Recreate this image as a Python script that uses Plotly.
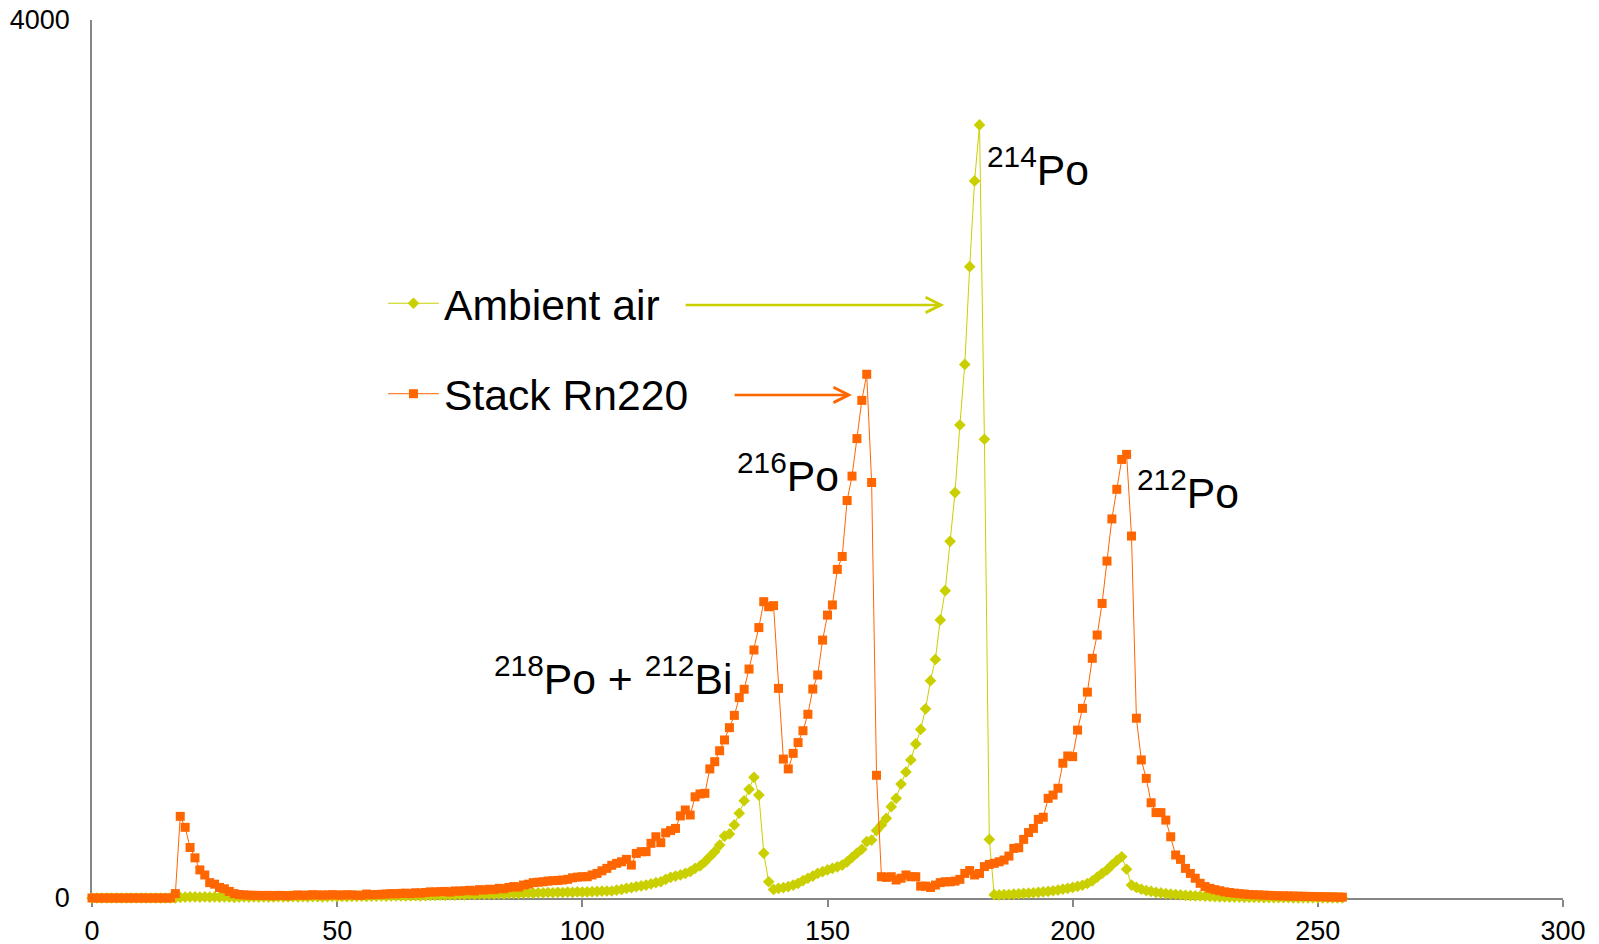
import plotly.graph_objects as go

channels = list(range(256))

# Stack Rn220 counts per channel (rows of 10 channels)
stack_rn220 = (
    [0] * 17 +
    [20, 372, 322, 230, 183, 128, 105, 70, 63, 48, 42, 30, 20] +            # 17-29
    [16, 14, 13, 12, 12, 11, 12, 10, 12, 11] +                             # 30-39
    [10, 12, 14, 12, 13, 15, 14, 13, 14, 15] +                             # 40-49
    [14, 13, 15, 14, 13, 12, 18, 15, 16, 17] +                             # 50-59
    [18, 20, 19, 21, 22, 20, 24, 22, 25, 28] +                             # 60-69
    [27, 29, 30, 27, 32, 31, 33, 35, 32, 38] +                             # 70-79
    [36, 40, 38, 44, 42, 48, 52, 50, 59, 63] +                             # 80-89
    [70, 72, 74, 77, 79, 80, 82, 85, 92, 95] +                             # 90-99
    [97, 97, 105, 112, 124, 135, 149, 158, 165, 176] +                     # 100-109
    [150, 203, 211, 211, 249, 279, 252, 297, 307, 317] +                   # 110-119
    [374, 401, 378, 461, 474, 477, 588, 621, 671, 720] +                   # 120-129
    [776, 832, 913, 951, 1043, 1130, 1232, 1350, 1327, 1332] +             # 130-139
    [955, 633, 588, 659, 708, 762, 837, 952, 1016, 1175] +                 # 140-149
    [1289, 1335, 1497, 1556, 1811, 1922, 2093, 2267, 2386, 1893] +         # 150-159
    [559, 97, 94, 97, 82, 90, 105, 97, 97, 54] +                           # 160-169
    [54, 48, 59, 70, 74, 74, 77, 85, 112, 125] +                           # 170-179
    [105, 112, 143, 153, 158, 165, 173, 191, 226, 229] +                   # 180-189
    [267, 298, 317, 358, 368, 454, 469, 500, 614, 647] +                   # 190-199
    [644, 765, 864, 938, 1092, 1198, 1342, 1535, 1727, 1862] +             # 200-209
    [1998, 2021, 1649, 819, 629, 545, 434, 389, 389, 355] +                # 210-219
    [279, 196, 176, 135, 112, 90, 67, 52, 44, 38] +                        # 220-229
    [33, 28, 25, 22, 20, 18, 16, 15, 14, 13] +                             # 230-239
    [12, 11, 10, 10, 9, 9, 8, 8, 7, 7] +                                   # 240-249
    [6, 6, 5, 5, 4, 4]                                                     # 250-255
)

# Ambient air counts per channel
ambient_air = (
    [0] * 18 +
    [3, 4, 5, 5, 4, 5, 4, 5, 4, 5, 4, 3] +                                 # 18-29
    [4, 5, 4, 5, 4, 5, 4, 5, 6, 5] +                                       # 30-39
    [5, 6, 5, 6, 5, 6, 6, 5, 6, 7] +                                       # 40-49
    [6, 7, 6, 7, 7, 8, 7, 8, 8, 9] +                                       # 50-59
    [8, 9, 9, 10, 9, 10, 11, 10, 11, 12] +                                 # 60-69
    [12, 13, 12, 14, 13, 15, 14, 16, 15, 17] +                             # 70-79
    [16, 18, 17, 19, 18, 20, 21, 20, 22, 23] +                             # 80-89
    [22, 24, 23, 25, 24, 26, 25, 27, 26, 28] +                             # 90-99
    [27, 28, 29, 30, 31, 32, 32, 36, 39, 44] +                             # 100-109
    [47, 52, 55, 59, 64, 70, 74, 85, 94, 100] +                            # 110-119
    [105, 112, 120, 135, 146, 165, 188, 211, 241, 282] +                   # 120-129
    [292, 333, 386, 443, 495, 550, 469, 204, 74, 39] +                     # 130-139
    [44, 47, 52, 59, 67, 79, 90, 100, 112, 120] +                          # 140-149
    [128, 135, 142, 150, 165, 185, 204, 222, 257, 264] +                   # 150-159
    [307, 333, 363, 416, 454, 519, 574, 629, 702, 768] +                   # 160-169
    [862, 990, 1087, 1267, 1400, 1625, 1847, 2155, 2431, 2876] +           # 170-179
    [3267, 3522, 2090, 267, 15, 14, 15, 16, 18, 19] +                      # 180-189
    [21, 22, 24, 26, 28, 30, 33, 36, 40, 44] +                             # 190-199
    [48, 53, 58, 66, 78, 95, 112, 128, 150, 170] +                         # 200-209
    [188, 131, 59, 48, 40, 34, 30, 26, 23, 20] +                           # 210-219
    [18, 16, 14, 12, 11, 10, 9, 8, 7, 6] +                                 # 220-229
    [5, 5, 4, 4, 4, 3, 3, 3, 3, 2] +                                       # 230-239
    [2, 2, 2, 2, 2, 1, 1, 1, 1, 1] +                                       # 240-249
    [1, 1, 1, 1, 1, 1]                                                     # 250-255
)

x_ticks = [0, 50, 100, 150, 200, 250, 300]
y_ticks = [0, 4000]

peak_labels = [
    ("<sup>214</sup>Po", 182.1, 3330),
    ("<sup>216</sup>Po", 131.2, 1935),
    ("<sup>212</sup>Po", 212.8, 1858),
    ("<sup>218</sup>Po + <sup>212</sup>Bi", 81.5, 1010),
]

GREEN = "#CAD000"
ORANGE = "#FF6600"
FONT = "Liberation Sans, Arial, sans-serif"

fig = go.Figure()
fig.add_trace(go.Scatter(
    x=channels, y=ambient_air, name="Ambient air", mode="lines+markers",
    line=dict(color=GREEN, width=1),
    marker=dict(symbol="diamond", size=9, color=GREEN),
    cliponaxis=False, legendgroup="a",
))
fig.add_trace(go.Scatter(
    x=channels, y=stack_rn220, name="Stack Rn220", mode="lines+markers",
    line=dict(color=ORANGE, width=1),
    marker=dict(symbol="square", size=9, color=ORANGE),
    cliponaxis=False, legendgroup="b",
))

for txt, xx, yy in peak_labels:
    fig.add_annotation(x=xx, y=yy, xref="x", yref="y", text=txt, showarrow=False,
                       xanchor="left", yanchor="middle",
                       font=dict(family=FONT, size=42.67, color="black"))

# legend arrows
fig.add_annotation(x=173.8, y=2702, xref="x", yref="y", text="", showarrow=True,
                   ax=-260, ay=0, arrowhead=5, arrowsize=1.2, arrowwidth=2.5,
                   arrowcolor=GREEN, standoff=0)
fig.add_annotation(x=155.0, y=2292, xref="x", yref="y", text="", showarrow=True,
                   ax=-119, ay=0, arrowhead=5, arrowsize=1.2, arrowwidth=2.5,
                   arrowcolor=ORANGE, standoff=0)

fig.update_layout(
    width=1599, height=944, autosize=False,
    margin=dict(l=92, r=36, t=20, b=46, autoexpand=False),
    paper_bgcolor="white", plot_bgcolor="white",
    font=dict(family=FONT, color="black"),
    showlegend=True,
    legend=dict(x=0.1978, y=0.7164, xanchor="left", yanchor="top",
                font=dict(family=FONT, size=42.67, color="black"),
                bgcolor="rgba(0,0,0,0)", itemwidth=51, tracegroupgap=32),
    xaxis=dict(range=[0, 300], tickvals=x_ticks, showline=True, linecolor="#868686",
               linewidth=1.5, ticks="outside", ticklen=7, tickcolor="#868686",
               tickwidth=1.5, showgrid=False, zeroline=False, layer="below traces",
               automargin=False, ticklabeloverflow="allow",
               tickfont=dict(family=FONT, size=27, color="black"),
               ticklabelstandoff=1),
    yaxis=dict(range=[0, 4000], tickvals=y_ticks, showline=True, linecolor="#868686",
               linewidth=1.5, ticks="", showgrid=False, zeroline=False,
               layer="below traces", automargin=False, ticklabeloverflow="allow",
               tickfont=dict(family=FONT, size=27, color="black"),
               ticklabelstandoff=15),
)

fig.write_html(
    "out.html",
    config={"displayModeBar": False},
    post_script="document.body.style.margin='0';document.body.style.overflow='hidden';",
)
